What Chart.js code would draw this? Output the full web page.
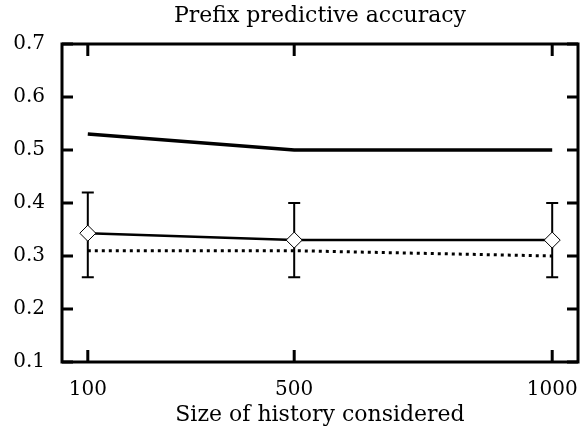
<!DOCTYPE html>
<html>
<head>
<meta charset="utf-8">
<script src="https://cdn.jsdelivr.net/npm/chart.js@4"></script>
<style>
  html, body { margin: 0; padding: 0; background: #fff; }
  canvas { display: block; }
</style>
</head>
<body>
<canvas id="chart" width="581" height="431"></canvas>
<script>
const historySizes = [100, 500, 1000];
const upperAccuracy = [0.53, 0.50, 0.50];
const meanAccuracy = [0.343, 0.33, 0.33];
const meanLow = [0.26, 0.26, 0.26];
const meanHigh = [0.42, 0.40, 0.40];
const baselineAccuracy = [0.31, 0.31, 0.30];
const yTicks = [0.1, 0.2, 0.3, 0.4, 0.5, 0.6, 0.7];

const serif = '"DejaVu Serif", "Liberation Serif", serif';

const toPoints = (ys) => historySizes.map((x, i) => ({ x, y: ys[i] }));

// ── Plugins ───────────────────────────────────────────────────────────────────

// gnuplot-style box with inward ticks on all four sides
const framePlugin = {
    id: 'frame',
    afterDraw(chart) {
        const { ctx, chartArea: a, scales } = chart;
        ctx.save();
        ctx.strokeStyle = '#000';
        ctx.lineWidth = 3;
        ctx.lineCap = 'butt';
        ctx.beginPath();
        yTicks.forEach((v) => {
            const y = scales.y.getPixelForValue(v);
            ctx.moveTo(a.left, y); ctx.lineTo(a.left + 11, y);
            ctx.moveTo(a.right, y); ctx.lineTo(a.right - 11, y);
        });
        historySizes.forEach((v) => {
            const x = scales.x.getPixelForValue(v);
            ctx.moveTo(x, a.bottom); ctx.lineTo(x, a.bottom - 12);
            ctx.moveTo(x, a.top); ctx.lineTo(x, a.top + 12);
        });
        ctx.stroke();
        ctx.strokeRect(a.left, a.top, a.right - a.left, a.bottom - a.top);
        ctx.restore();
    },
};

const errorBarPlugin = {
    id: 'errorBars',
    beforeDatasetsDraw(chart) {
        const { ctx, scales } = chart;
        ctx.save();
        ctx.strokeStyle = '#000';
        ctx.lineWidth = 2;
        ctx.beginPath();
        historySizes.forEach((v, i) => {
            const x = scales.x.getPixelForValue(v);
            const yLo = scales.y.getPixelForValue(meanLow[i]);
            const yHi = scales.y.getPixelForValue(meanHigh[i]);
            ctx.moveTo(x, yLo); ctx.lineTo(x, yHi);
            ctx.moveTo(x - 6, yLo); ctx.lineTo(x + 6, yLo);
            ctx.moveTo(x - 6, yHi); ctx.lineTo(x + 6, yHi);
        });
        ctx.stroke();
        ctx.restore();
    },
};

// ── Chart ─────────────────────────────────────────────────────────────────────

new Chart(document.getElementById('chart'), {
    type: 'line',
    data: {
        datasets: [
            {
                data: toPoints(upperAccuracy),
                borderColor: '#000',
                borderWidth: 3.5,
                pointRadius: 0,
                order: 2,
            },
            {
                data: toPoints(meanAccuracy),
                borderColor: '#000',
                borderWidth: 2.5,
                pointStyle: 'rectRot',
                pointRadius: 8,
                pointBorderWidth: 1,
                pointBackgroundColor: '#fff',
                pointBorderColor: '#000',
                order: 1,
            },
            {
                data: toPoints(baselineAccuracy),
                borderColor: '#000',
                borderWidth: 3,
                borderDash: [3, 4],
                pointRadius: 0,
                order: 3,
            },
        ],
    },
    options: {
        responsive: false,
        animation: false,
        devicePixelRatio: 1,
        layout: { autoPadding: false, padding: { top: 0, right: 3, bottom: 0, left: 0 } },
        plugins: {
            legend: { display: false },
            tooltip: { enabled: false },
            title: {
                display: true,
                text: 'Prefix predictive accuracy',
                color: '#000',
                fullSize: false,
                font: { family: serif, size: 22, weight: 'normal' },
                padding: { top: 3, bottom: 14.6 },
            },
        },
        scales: {
            x: {
                type: 'linear',
                min: 50,
                max: 1050,
                grid: { display: false, drawTicks: false },
                border: { display: false },
                afterBuildTicks(scale) {
                    scale.ticks = historySizes.map((value) => ({ value }));
                },
                afterFit(scale) {
                    scale.height = 69;
                    scale.paddingLeft = 0;
                    scale.paddingRight = 0;
                },
                ticks: {
                    color: '#000',
                    padding: 16,
                    maxRotation: 0,
                    font: { family: serif, size: 20 },
                    callback: (v) => String(v),
                },
                title: {
                    display: true,
                    text: 'Size of history considered',
                    color: '#000',
                    font: { family: serif, size: 22 },
                    padding: { top: 0, bottom: 3 },
                },
            },
            y: {
                min: 0.1,
                max: 0.7,
                grid: { display: false, drawTicks: false },
                border: { display: false },
                afterBuildTicks(scale) {
                    scale.ticks = yTicks.map((value) => ({ value }));
                },
                afterFit(scale) {
                    scale.width = 62;
                    scale.paddingTop = 0;
                    scale.paddingBottom = 0;
                },
                ticks: {
                    color: '#000',
                    padding: 17,
                    font: { family: serif, size: 20 },
                    callback: (v) => Number(v).toFixed(1),
                },
            },
        },
    },
    plugins: [errorBarPlugin, framePlugin],
});
</script>
</body>
</html>
